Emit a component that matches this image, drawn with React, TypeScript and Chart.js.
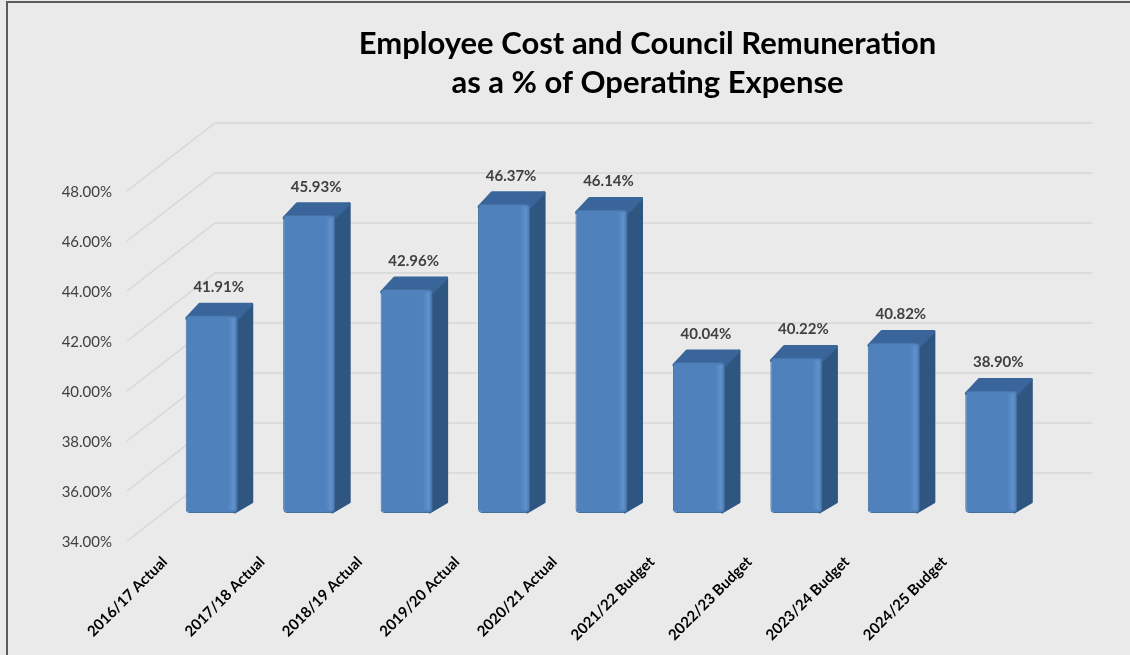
import React, { useEffect, useRef } from "react";
import { Chart, registerables } from "chart.js";

Chart.register(...registerables);

const categories = [
  "2016/17 Actual",
  "2017/18 Actual",
  "2018/19 Actual",
  "2019/20 Actual",
  "2020/21 Actual",
  "2021/22 Budget",
  "2022/23 Budget",
  "2023/24 Budget",
  "2024/25 Budget",
];
const values = [41.91, 45.93, 42.96, 46.37, 46.14, 40.04, 40.22, 40.82, 38.9];
const yMin = 34;
const yMax = 48;
const yStep = 2;
const titleLines = ["Employee Cost and Council Remuneration", "as a % of Operating Expense"];

const DX = 14;
const DY = -12;
const FONT = "Lato, 'Open Sans', sans-serif";

const threeD = {
  id: "threeD",
  beforeDraw(chart: any) {
    const { ctx, width, height, chartArea } = chart;
    ctx.save();
    ctx.fillStyle = "#eaeaea";
    ctx.fillRect(0, 0, width, height);
    ctx.fillStyle = "#5c5c5c";
    ctx.fillRect(6, 1, width - 6, 2);
    ctx.fillRect(6, 1, 2, height - 1);
    const cx = (chartArea.left + chartArea.right) / 2 + 46;
    ctx.fillStyle = "#000000";
    ctx.textAlign = "center";
    ctx.textBaseline = "alphabetic";
    ctx.font = `bold 31px ${FONT}`;
    ctx.fillText(titleLines[0], cx, 54);
    ctx.fillText(titleLines[1], cx, 93);
    ctx.restore();
  },
  beforeDatasetsDraw(chart: any) {
    const { ctx, chartArea, scales } = chart;
    const ys = scales.y;
    ctx.save();
    ctx.strokeStyle = "#d7d7d7";
    ctx.lineWidth = 1.5;
    for (let v = yMin; v <= yMax; v += yStep) {
      const py = ys.getPixelForValue(v);
      ctx.beginPath();
      ctx.moveTo(chartArea.left - 36, py + 28);
      ctx.lineTo(chartArea.left + 52, py - 40);
      ctx.lineTo(chartArea.right + 52, py - 40);
      ctx.stroke();
    }
    const meta = chart.getDatasetMeta(0);
    ctx.lineJoin = "round";
    ctx.lineWidth = 3;
    meta.data.forEach((bar: any) => {
      const { x, y, base, width } = bar.getProps(["x", "y", "base", "width"], true);
      const x0 = x - width / 2;
      const x1 = x + width / 2;
      ctx.fillStyle = "#2f5581";
      ctx.strokeStyle = "#2f5581";
      ctx.beginPath();
      ctx.moveTo(x1 - 3, y);
      ctx.lineTo(x1 + DX, y + DY + 1);
      ctx.lineTo(x1 + DX, base + DY + 1);
      ctx.lineTo(x1 - 3, base - 1);
      ctx.closePath();
      ctx.fill();
      ctx.stroke();
      ctx.fillStyle = "#3a659a";
      ctx.strokeStyle = "#3a659a";
      ctx.beginPath();
      ctx.moveTo(x0 + 1, y + 3);
      ctx.lineTo(x0 + DX, y + DY + 1);
      ctx.lineTo(x1 + DX, y + DY + 1);
      ctx.lineTo(x1, y + 3);
      ctx.closePath();
      ctx.fill();
      ctx.stroke();
    });
    ctx.restore();
  },
  afterDatasetsDraw(chart: any) {
    const { ctx } = chart;
    const meta = chart.getDatasetMeta(0);
    ctx.save();
    meta.data.forEach((bar: any, i: number) => {
      const { x, y, base, width } = bar.getProps(["x", "y", "base", "width"], true);
      const x1 = x + width / 2;
      const g = ctx.createLinearGradient(x1 - 10, 0, x1, 0);
      g.addColorStop(0, "rgba(120,165,220,0)");
      g.addColorStop(0.6, "rgba(120,165,220,0.45)");
      g.addColorStop(1, "rgba(60,100,150,0.3)");
      ctx.fillStyle = g;
      ctx.fillRect(x1 - 10, y + 3, 10, base - y - 6);
      ctx.fillStyle = "#404040";
      ctx.font = `bold 15px ${FONT}`;
      ctx.textAlign = "center";
      ctx.textBaseline = "middle";
      ctx.fillText(values[i].toFixed(2) + "%", x + DX / 2, y - 28);
    });
    ctx.restore();
  },
};

export default function App() {
  const ref = useRef<HTMLCanvasElement | null>(null);
  useEffect(() => {
    document.body.style.margin = "0";
    const canvas = ref.current!;
    const chart = new Chart(canvas, {
      type: "bar",
      data: {
        labels: categories,
        datasets: [
          {
            data: values,
            base: yMin,
            backgroundColor: "#4f81bd",
            borderColor: "#41709f",
            borderWidth: 1,
            borderRadius: 4,
            borderSkipped: false,
            barPercentage: 0.534,
            categoryPercentage: 1,
          },
        ],
      },
      options: {
        animation: false,
        responsive: false,
        maintainAspectRatio: false,
        events: [],
        layout: { padding: { top: 163, right: 90, left: 0, bottom: 0 } },
        plugins: {
          legend: { display: false },
          title: { display: false },
          tooltip: { enabled: false },
        },
        scales: {
          x: {
            grid: { display: false, drawTicks: false },
            border: { display: false },
            ticks: {
              minRotation: 45,
              maxRotation: 45,
              autoSkip: false,
              labelOffset: -47,
              padding: 40,
              color: "#000000",
              font: { family: FONT, size: 15, weight: "bold" },
            },
            afterFit: (s: any) => {
              s.height = 142;
              s.paddingLeft = 0;
              s.paddingRight = 0;
            },
          },
          y: {
            min: yMin,
            max: yMax,
            grid: { display: false, drawTicks: false },
            border: { display: false },
            ticks: {
              stepSize: yStep,
              labelOffset: 29,
              padding: 51,
              color: "#404040",
              font: { family: FONT, size: 15 },
              callback: (v: any) => Number(v).toFixed(2) + "%",
            },
            afterFit: (s: any) => {
              s.width = 163;
            },
          },
        },
      },
      plugins: [threeD],
    });
    return () => chart.destroy();
  }, []);
  return <canvas ref={ref} width={1130} height={655} style={{ display: "block" }} />;
}
